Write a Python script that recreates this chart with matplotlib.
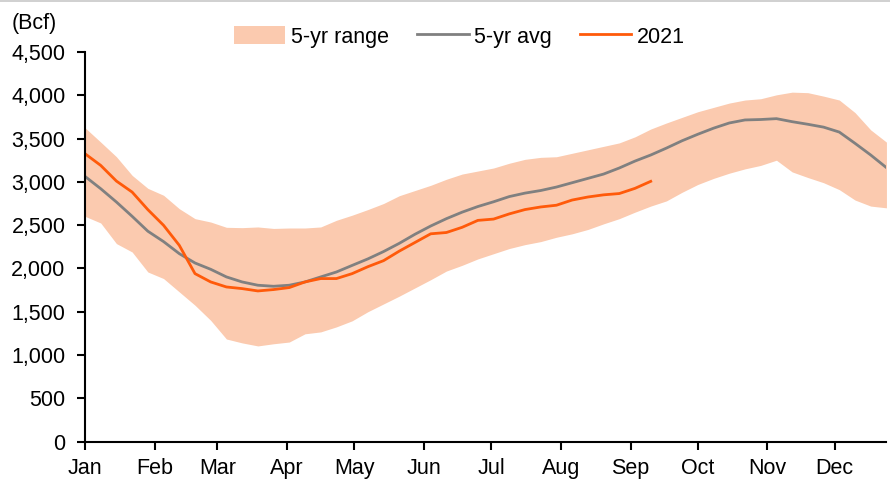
import numpy as np
import matplotlib
matplotlib.use('Agg')
import matplotlib.pyplot as plt
from matplotlib.lines import Line2D

plt.rcParams['font.family'] = ['Liberation Sans', 'DejaVu Sans']

# weekly storage, Bcf (week 0 = first week of Jan)
range_hi = [3625, 3459, 3290, 3075, 2925, 2845, 2690, 2575, 2536, 2475,
            2471, 2479, 2462, 2467, 2467, 2479, 2556, 2615, 2680, 2750,
            2840, 2900, 2960, 3030, 3090, 3125, 3160, 3215, 3260, 3283,
            3290, 3330, 3370, 3410, 3450, 3520, 3610, 3680, 3745, 3810,
            3860, 3910, 3945, 3960, 4005, 4036, 4030, 3990, 3945, 3800,
            3600, 3459]
range_lo = [2602, 2525, 2287, 2190, 1959, 1883, 1729, 1575, 1400, 1185,
            1140, 1105, 1130, 1150, 1245, 1267, 1325, 1395, 1500, 1590,
            1680, 1775, 1870, 1970, 2036, 2110, 2170, 2230, 2275, 2310,
            2360, 2400, 2450, 2515, 2575, 2650, 2720, 2780, 2880, 2970,
            3040, 3100, 3150, 3190, 3250, 3115, 3050, 2990, 2910, 2790,
            2720, 2700]
avg_5yr = [3063, 2921, 2767, 2602, 2430, 2310, 2171, 2063, 1990, 1902,
           1844, 1806, 1794, 1806, 1844, 1902, 1959, 2035, 2110, 2195,
           2290, 2395, 2490, 2575, 2650, 2715, 2770, 2830, 2870, 2900,
           2940, 2990, 3040, 3090, 3160, 3240, 3310, 3390, 3475, 3550,
           3620, 3680, 3715, 3720, 3730, 3695, 3665, 3632, 3575, 3445,
           3310, 3164]
y2021 = [3325, 3190, 3009, 2882, 2679, 2498, 2267, 1940, 1844, 1786,
         1767, 1740, 1756, 1779, 1844, 1883, 1883, 1940, 2020, 2090,
         2200, 2300, 2400, 2415, 2475, 2555, 2570, 2630, 2680, 2710,
         2730, 2790, 2825, 2850, 2865, 2925, 3006]

months = ['Jan', 'Feb', 'Mar', 'Apr', 'May', 'Jun', 'Jul', 'Aug', 'Sep',
          'Oct', 'Nov', 'Dec']
month_days = [0, 31, 59, 90, 120, 151, 181, 212, 243, 273, 304, 334]

days = np.arange(len(range_hi)) * 7
days21 = np.arange(len(y2021)) * 7

fig = plt.figure(figsize=(8.9, 4.8), dpi=100)
ax = fig.add_axes([0.0955, 0.080, 0.9005, 0.8117])

ax.fill_between(days, range_lo, range_hi, color='#FBCAAF', lw=0,
                label='5-yr range')
ax.plot(days, avg_5yr, color='#808080', lw=2.0, label='5-yr avg')
ax.plot(days21, y2021, color='#FF5A0A', lw=2.0, label='2021')

ax.set_xlim(0, days[-1])
ax.set_ylim(0, 4500)
ax.set_yticks(np.arange(0, 4501, 500))
ax.set_yticklabels([f'{v:,}' for v in range(0, 4501, 500)])
ax.set_xticks(month_days)
ax.set_xticklabels(months)

for s in ['top', 'right']:
    ax.spines[s].set_visible(False)
for s in ['left', 'bottom']:
    ax.spines[s].set_linewidth(1.5)
    ax.spines[s].set_color('black')
ax.tick_params(axis='both', direction='out', length=6, width=1.5,
               labelsize=15.5, colors='black')
ax.tick_params(axis='y', pad=8)
ax.tick_params(axis='x', pad=6)

fig.text(0.013, 1 - 23 / 480, '(Bcf)', fontsize=15.5, va='center', ha='left')

fig.legend(loc='center', bbox_to_anchor=(0.516, 0.923), ncol=3,
           frameon=False, fontsize=15.5, handlelength=2.4,
           handletextpad=0.25, columnspacing=1.3, handleheight=0.9)

fig.add_artist(Line2D([0, 1], [0.998, 0.998], color='#C8C8C8', lw=1.2,
                      transform=fig.transFigure))

fig.savefig('out.png', dpi=100)
